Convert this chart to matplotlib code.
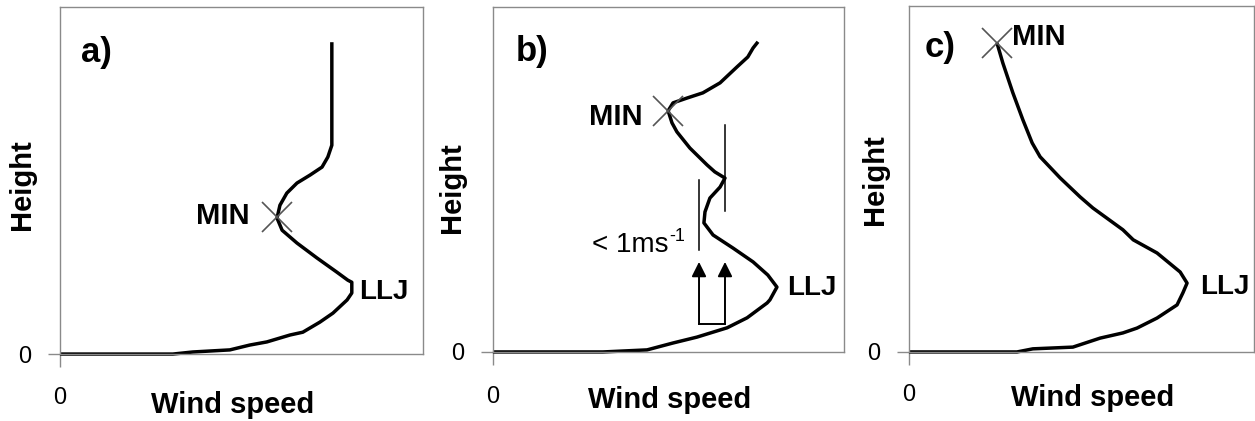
import matplotlib
matplotlib.use("Agg")
import matplotlib.pyplot as plt

plt.rcParams['font.family'] = ['Liberation Sans', 'DejaVu Sans']

# wind profiles (x = wind speed, y = height, both 0..100)
a_speed = [0, 31.1, 36.6, 46.8, 52.3, 57.0, 63.4, 66.9, 71.6, 75.2, 79.1, 80.4,
           80.4, 79.3, 76.3, 70.8, 65.3, 61.2, 59.8, 60.6, 62.5, 65.3, 68.9,
           72.2, 73.8, 74.9, 74.9]
a_height = [0, 0, 0.6, 1.2, 2.6, 3.5, 5.5, 6.3, 9.2, 11.8, 15.6, 17.6,
            20.7, 21.3, 23.6, 27.7, 32.0, 35.7, 39.2, 42.9, 46.4, 49.3, 51.6,
            53.9, 56.8, 60.2, 89.9]

b_speed = [0, 31.3, 43.9, 51.3, 58.1, 66.7, 72.4, 78.1, 78.9, 80.9, 78.3, 74.1,
           68.4, 62.7, 60.1, 60.4, 61.8, 64.7, 66.1, 63.2, 61.0, 56.1, 52.4,
           51.0, 49.9, 51.3, 55.3, 59.8, 64.7, 69.5, 72.6, 74.1, 75.5]
b_height = [0, 0, 0.6, 2.6, 4.3, 7.0, 9.9, 14.2, 15.1, 18.8, 22.3, 26.1,
            30.1, 33.9, 37.4, 40.6, 44.6, 47.8, 50.4, 52.2, 54.2, 59.1, 63.8,
            66.4, 69.9, 72.2, 73.6, 75.1, 78.0, 82.6, 85.5, 88.1, 89.9]

c_speed = [0, 31.3, 35.9, 47.5, 55.4, 62.0, 66.1, 71.9, 77.7, 79.4, 80.6, 78.6,
           71.9, 65.0, 62.0, 53.3, 49.6, 43.8, 38.0, 35.7, 33.0, 30.1, 27.2, 25.5]
c_height = [0, 0, 0.9, 1.4, 4.0, 5.5, 6.9, 9.8, 13.6, 17.1, 19.9, 23.1,
            28.6, 32.4, 35.3, 41.6, 44.8, 50.3, 56.4, 60.4, 67.1, 74.9, 83.5, 89.3]

panels = [
    dict(tag='a)', speed=a_speed, height=a_height,
         pos=[0.0478, 0.159, 0.2892, 0.824],
         tag_xy=(5.8, 87), min_xy=(59.8, 39.5), min_txt=(52.3, 39.8, 'right'),
         llj_txt=(82.4, 17.9), hlab=(-0.105, 0.487), wlab=(0.477, -0.147),
         zero_x=-0.127),
    dict(tag='b)', speed=b_speed, height=b_height,
         pos=[0.3928, 0.164, 0.2797, 0.8195],
         tag_xy=(6.6, 87), min_xy=(49.9, 69.9), min_txt=(42.5, 68.1, 'right'),
         llj_txt=(83.8, 18.6), hlab=(-0.117, 0.475), wlab=(0.504, -0.139),
         zero_x=-0.130),
    dict(tag='c)', speed=c_speed, height=c_height,
         pos=[0.7243, 0.164, 0.2749, 0.822],
         tag_xy=(4.4, 88), min_xy=(25.5, 89.3), min_txt=(29.9, 91.0, 'left'),
         llj_txt=(84.3, 18.8), hlab=(-0.099, 0.497), wlab=(0.533, -0.133),
         zero_x=-0.124),
]

# panel b: the "< 1 m/s" bracket and arrows
b_bar_left = (58.7, 29.6, 49.9)
b_bar_right = (66.1, 40.9, 65.8)
b_arrow_x = [58.7, 66.1]
b_arrow_y = (8.1, 26.1)

fig = plt.figure(figsize=(12.55, 4.21), dpi=100)
frame = '#8a8a8a'

for p in panels:
    ax = fig.add_axes(p['pos'])
    ax.set_xlim(0, 100)
    ax.set_ylim(0, 100)
    for s in ax.spines.values():
        s.set_color(frame)
        s.set_linewidth(1.0)
    ax.set_xticks([0])
    ax.set_yticks([0])
    ax.set_xticklabels([''])
    ax.set_yticklabels(['0'], fontsize=17)
    ax.tick_params(axis='both', direction='out', length=9, color=frame, width=1)
    ax.tick_params(axis='y', pad=12)

    ax.plot(p['speed'], p['height'], color='black', lw=2.5, clip_on=False,
            solid_joinstyle='round', solid_capstyle='butt')
    ax.plot(*p['min_xy'], marker='x', ms=21, mew=1.2, color='#555555')

    ax.text(*p['tag_xy'], p['tag'], fontsize=25, fontweight='bold', va='center')
    mx, my, ha = p['min_txt']
    ax.text(mx, my, 'MIN', fontsize=21, fontweight='bold', ha=ha, va='center')
    ax.text(*p['llj_txt'], 'LLJ', fontsize=20, fontweight='bold', va='center')

    ax.text(*p['hlab'], 'Height', transform=ax.transAxes, rotation=90,
            fontsize=21, fontweight='bold', ha='center', va='center')
    ax.text(*p['wlab'], 'Wind speed', transform=ax.transAxes, fontsize=21,
            fontweight='bold', ha='center', va='center')
    ax.text(0, p['zero_x'], '0', transform=ax.transAxes, fontsize=17,
            ha='center', va='center')

    if p['tag'] == 'b)':
        for x, y0, y1 in (b_bar_left, b_bar_right):
            ax.plot([x, x], [y0, y1], color='black', lw=1.1)
        for x in b_arrow_x:
            ax.annotate('', xy=(x, b_arrow_y[1]), xytext=(x, b_arrow_y[0]),
                        arrowprops=dict(arrowstyle='-|>', color='black', lw=1.4,
                                        mutation_scale=22, shrinkA=0, shrinkB=0))
        ax.plot(b_arrow_x, [b_arrow_y[0]] * 2, color='black', lw=1.4)
        ax.text(49.9, 31.0, '< 1ms', fontsize=20, ha='right', va='center')
        ax.text(50.3, 33.6, '-1', fontsize=13, ha='left', va='center')

fig.savefig('out.png', dpi=100)
